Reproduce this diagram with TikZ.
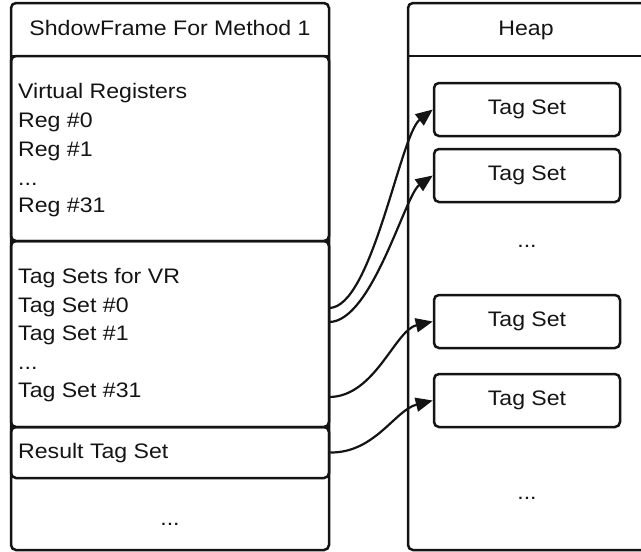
\documentclass[tikz,border=0pt]{standalone}
\usepackage{fontspec}
\setmainfont{Liberation Sans}[FakeStretch=1.1]
\usetikzlibrary{arrows.meta}
\begin{document}
\begin{tikzpicture}[x=1pt,y=-1pt,
  frame/.style={rectangle, draw=black!92, line width=2.5pt, rounded corners=5pt, inner sep=0pt},
  tagbox/.style={frame, minimum width=186pt, minimum height=53pt, font=\fontsize{21}{25}\selectfont, text=black!92},
  txt/.style={anchor=base west, inner sep=0pt, font=\fontsize{21}{25}\selectfont, text=black!92},
  ctxt/.style={anchor=base, inner sep=0pt, font=\fontsize{21}{25}\selectfont, text=black!92},
  link/.style={line width=2.2pt, draw=black!92, -{Triangle[length=17pt,width=14pt]}}]
\useasboundingbox (0,0) rectangle (641,552);
\clip (0,0) rectangle (641,552);
% left frame
\node[frame, minimum width=318pt, minimum height=547pt] (sf) at (170,276.5) {};
\draw[line width=2.5pt, black!92] (sf.west |- 0,56) -- (sf.east |- 0,56);
\node[ctxt] (sft) at (170,35) {ShdowFrame For Method 1};
\node[frame, minimum width=318pt, minimum height=185pt] (vr) at (170,148.5) {};
\node[frame, minimum width=318pt, minimum height=186pt] (tags) at (170,334) {};
\node[frame, minimum width=318pt, minimum height=51pt] (res) at (170,452.5) {};
\node[txt] (vr0) at (18,98) {Virtual Registers};
\node[txt] (vr1) at (18,127) {Reg \#0};
\node[txt] (vr2) at (18,156) {Reg \#1};
\node[txt] (vr3) at (18,185) {...};
\node[txt] (vr4) at (18,212) {Reg \#31};
\node[txt] (ts0) at (18,283) {Tag Sets for VR};
\node[txt] (ts1) at (18,312) {Tag Set \#0};
\node[txt] (ts2) at (18,340) {Tag Set \#1};
\node[txt] (ts3) at (18,369) {...};
\node[txt] (ts4) at (18,397) {Tag Set \#31};
\node[txt] (rt) at (18,458) {Result Tag Set};
\node[ctxt] (sfd) at (170,525) {...};
% heap
\node[frame, minimum width=300pt, minimum height=547pt] (heap) at (558,276.5) {};
\draw[line width=2.5pt, black!92] (heap.west |- 0,56) -- (heap.east |- 0,56);
\node[ctxt] (heapt) at (526,35) {Heap};
\node[tagbox] (t1) at (527,109.5) {Tag Set};
\node[tagbox] (t2) at (527,175.5) {Tag Set};
\node[ctxt] (hd1) at (527,247) {...};
\node[tagbox] (t3) at (527,321.5) {Tag Set};
\node[tagbox] (t4) at (527,400.5) {Tag Set};
\node[ctxt] (hd2) at (527,499) {...};
% connectors
\coordinate (s1) at (329,308);
\coordinate (s2) at (329,322);
\coordinate (s3) at (329,397);
\draw[link] (s1) .. controls (372,308) and (400,135) .. (t1.west);
\draw[link] (s2) .. controls (372,322) and (405,195) .. (t2.west);
\draw[link] (s3) .. controls (375,397) and (395,330) .. (t3.west);
\draw[link] (res.east) .. controls (375,453) and (395,410) .. (t4.west);
\end{tikzpicture}
\end{document}
